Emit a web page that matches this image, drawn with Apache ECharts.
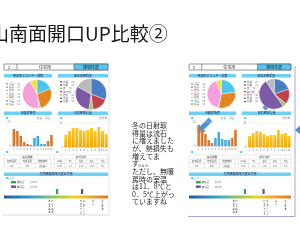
<!DOCTYPE html>
<html><head><meta charset="utf-8">
<script src="https://cdn.jsdelivr.net/npm/echarts@6/dist/echarts.min.js"></script>
<style>html,body{margin:0;padding:0;background:#fff;overflow:hidden}#c{width:300px;height:240px}</style>
</head><body><div id="c"></div>
<script>
const titleText = '山南面開口UP比較②';
const noteLines = ['冬の日射取','得量は流石','に増えました','が、熱損失も','増えてま','す。。。','ただし、無暖','房時の室温','は11．8℃と','0．5℃上がっ','ていますね'];
const months = ['1','2','3','4','5','6','7','8','9','10','11','12'];
const useCats = ['冷房','暖房','換気','給湯','照明'];
const useA = [19, 27, 2, 44, 8];
const useB = [23, 30, 1, 40, 6];
const lossCats = ['屋根','外壁','床','開口部','換気'];
const lossA = [31, 17, 4, 31, 17];
const lossB = [20, 16, 4, 51, 9];
const heatA = [17, 15, 10, 4, 2, 0, 0, 0, 0, 0, 5, 11];
const coolA = [0, 0, 0, 0, 0, 1, 8, 10, 2, 2, 0, 0];
const heatB = [21, 16, 12, 6, 2, 0, 0, 0, 0, 0, 8, 16];
const coolB = [0, 0, 0, 0, 1, 8, 14, 7, 6, 6, 0, 0];
const solarA = [12, 16, 19, 19, 17, 16, 17, 19, 16, 20, 16, 13];
const solarB = [11, 14, 16, 15, 13, 11, 12, 12, 17, 13, 14, 11];
const tempLabels = ['無暖房', '無冷房'];
const tempA = ['11.3℃', '15.7℃'];
const tempB = ['11.8℃', '15.9℃'];

const FONT = '"Noto Sans CJK JP"';
const useColors = ['#4cc4ef', '#e2861f', '#b9b9b9', '#f59fdc', '#f0e046'];
const lossColors = ['#4a7ec2', '#c2404c', '#a5c262', '#7b5aa8', '#f19a40'];
const HB = '#6fcff4';

const chart = echarts.init(document.getElementById('c'), null, {renderer: 'canvas'});
const grids = [], xAxes = [], yAxes = [], series = [], els = [];

function T(x, y, text, size, fill, align, extra) {
  return Object.assign({type: 'text', silent: true, style: {x, y, text, font: size + 'px ' + FONT, fill: fill || '#333',
    textAlign: align || 'left', textVerticalAlign: 'middle'}}, extra || {});
}
function R(x, y, w, h, fill, stroke, lw) {
  return {type: 'rect', silent: true, shape: {x, y, width: w, height: h}, style: {fill: fill || 'none', stroke: stroke || 'none', lineWidth: lw || 0.5}};
}
function L(x1, y1, x2, y2, stroke, lw) {
  return {type: 'line', silent: true, shape: {x1, y1, x2, y2}, style: {stroke, lineWidth: lw || 0.5}};
}

function dashboard(ox, s, d) {
  const X = v => ox + v * s, W = v => v * s;
  // tab bar
  els.push(R(X(0), 64, W(104), 6, '#fff', '#555', 0.6));
  els.push(R(X(70), 64, W(34), 6, '#58c5ee', '#555', 0.6));
  els.push(L(X(13), 64, X(13), 70, '#555', 0.6));
  els.push(T(X(4), 67, '2', 4, '#222'));
  els.push(T(X(41), 67, '住宅用', 4, '#333', 'center'));
  els.push(T(X(87), 67, '建物性能', 4, '#123', 'center'));
  // pie panels
  els.push(R(X(0), 74, W(48), 3.5, HB));
  els.push(R(X(54), 74, W(50), 3.5, HB));
  els.push(T(X(24), 75.8, '用途別エネルギー消費', 3, '#225', 'center'));
  els.push(T(X(79), 75.8, '部位別熱損失', 3, '#225', 'center'));
  for (let i = 0; i < 7; i++) {
    const c1 = useColors[i % 5], c2 = lossColors[i % 5];
    els.push(R(X(2), 83 + i * 3.4, 2, 1.4, c1));
    els.push(T(X(5), 83.7 + i * 3.4, useCats[i % 5] + '　 ' + (10 + i * 7), 2.6, '#777'));
    els.push(R(X(56), 81 + i * 3.3, 2, 1.4, c2));
    els.push(T(X(59), 81.7 + i * 3.3, lossCats[i % 5] + '　 ' + (20 + i * 5), 2.6, '#777'));
  }
  series.push({type: 'pie', center: [X(33), 94], radius: W(14.5), startAngle: 90, silent: true, animation: false,
    label: {show: false}, labelLine: {show: false}, itemStyle: {borderColor: '#fff', borderWidth: 0.4},
    color: useColors, data: d.use.map((v, i) => ({name: useCats[i], value: v}))});
  series.push({type: 'pie', center: [X(87), 94], radius: W(15.5), startAngle: 90, silent: true, animation: false,
    label: {show: false}, labelLine: {show: false}, itemStyle: {borderColor: '#fff', borderWidth: 0.4},
    color: lossColors, data: d.loss.map((v, i) => ({name: lossCats[i], value: v}))});
  // bar panels
  els.push(R(X(0), 111.5, W(48), 3.5, HB));
  els.push(R(X(54), 111.5, W(50), 3.5, HB));
  els.push(T(X(24), 113.3, '冷暖房負荷', 3, '#225', 'center'));
  els.push(T(X(79), 113.3, '日射熱取得量', 3, '#225', 'center'));
  els.push(T(X(2), 118, '■', 2.5, '#5bc0e8'));
  els.push(T(X(56), 118, '■', 2.5, '#5bc0e8'));
  els.push(T(X(46), 118.5, '暖房　冷房', 2.6, '#888', 'right'));
  els.push(T(X(103), 118.5, '取得量', 2.6, '#888', 'right'));
  const g = grids.length;
  grids.push({left: X(8), width: W(41), top: 122, height: 24});
  grids.push({left: X(60), width: W(44), top: 123, height: 24});
  [g, g + 1].forEach(k => {
    xAxes.push({type: 'category', gridIndex: k, data: months, axisTick: {show: false},
      axisLine: {lineStyle: {color: '#bbb', width: 0.5}},
      axisLabel: {fontSize: 2.6, color: '#777', margin: 1.5, interval: 0, fontFamily: FONT}});
    yAxes.push({type: 'value', gridIndex: k, min: 0, max: 24, interval: 24,
      splitLine: {show: true, lineStyle: {color: '#e3e3e3', width: 0.4}},
      axisLabel: {fontSize: 2.6, color: '#888', margin: 1.5}});
  });
  const og = new echarts.graphic.LinearGradient(0, 0, 1, 0, [{offset: 0, color: '#f0a060'}, {offset: 0.5, color: '#e07a2c'}, {offset: 1, color: '#c8601c'}]);
  const bg = new echarts.graphic.LinearGradient(0, 0, 1, 0, [{offset: 0, color: '#7fd0f2'}, {offset: 0.5, color: '#3cb2e6'}, {offset: 1, color: '#2a98d0'}]);
  const yg = new echarts.graphic.LinearGradient(0, 0, 0, 1, [{offset: 0, color: '#ffc92a'}, {offset: 1, color: '#f5a800'}]);
  series.push({type: 'bar', xAxisIndex: g, yAxisIndex: g, stack: 's' + g, data: d.heat, barWidth: '80%', silent: true, animation: false, itemStyle: {color: og}});
  series.push({type: 'bar', xAxisIndex: g, yAxisIndex: g, stack: 's' + g, data: d.cool, barWidth: '80%', silent: true, animation: false, itemStyle: {color: bg}});
  series.push({type: 'bar', xAxisIndex: g + 1, yAxisIndex: g + 1, data: d.solar, barWidth: '82%', silent: true, animation: false, itemStyle: {color: yg}});
  // tables
  els.push(T(X(2), 152.5, '■', 2.5, '#5bc0e8'));
  els.push(T(X(52), 152.5, '■', 2.5, '#5bc0e8'));
  els.push(R(X(0), 155, W(47), 13, '#fff', '#c8c8c8', 0.4));
  els.push(L(X(0), 159, X(47), 159, '#c8c8c8', 0.4));
  els.push(L(X(0), 163.5, X(47), 163.5, '#c8c8c8', 0.4));
  els.push(L(X(15.5), 159, X(15.5), 168, '#c8c8c8', 0.4));
  els.push(L(X(31), 159, X(31), 168, '#c8c8c8', 0.4));
  els.push(T(X(23.5), 157, '建設概要', 2.6, '#555', 'center'));
  ['延床面積', '外皮面積', '階数構成'].forEach((t, i) => {
    els.push(T(X(7.7 + i * 15.5), 161.3, t, 2.4, '#555', 'center'));
    els.push(T(X(7.7 + i * 15.5), 165.8, ['120', '305', '2階建+'][i], 2.4, '#666', 'center'));
  });
  els.push(R(X(50), 155, W(54), 13, '#fff', '#c8c8c8', 0.4));
  els.push(L(X(50), 159, X(104), 159, '#c8c8c8', 0.4));
  els.push(L(X(50), 163.5, X(104), 163.5, '#c8c8c8', 0.4));
  for (let i = 1; i < 5; i++) els.push(L(X(50 + i * 10.8), 159, X(50 + i * 10.8), 168, '#c8c8c8', 0.4));
  els.push(T(X(77), 157, '部位性能', 2.6, '#555', 'center'));
  ['Ua値', 'ηA', 'Q値', 'μ値', 'C値'].forEach((t, i) => {
    els.push(T(X(55.4 + i * 10.8), 161.3, t, 2.4, '#555', 'center'));
    els.push(T(X(55.4 + i * 10.8), 165.8, ['0.56', '2.1', '1.92', '0.07', '0.5'][i], 2.4, '#666', 'center'));
  });
  // temperature section
  els.push(R(X(0), 172.5, W(104), 3.5, HB));
  els.push(T(X(52), 174.3, '冬期無暖房時の室温予想', 3, '#225', 'center'));
  els.push(T(X(2), 178.5, '■ 室温', 2.5, '#5bc0e8'));
  els.push(R(X(7), 181, W(5), 2.4, '#2aa95a'));
  els.push(R(X(7), 185.5, W(5), 2.4, '#7048ab'));
  els.push(T(X(13), 182.2, tempLabels[0], 2.5, '#555'));
  els.push(T(X(13), 186.7, tempLabels[1], 2.5, '#555'));
  els.push(T(X(26), 182.2, d.temp[0], 2.5, '#555'));
  els.push(T(X(26), 186.7, d.temp[1], 2.5, '#555'));
  els.push(R(X(d.mk[0]), 189, W(2.2), 5, '#2aa95a'));
  els.push(R(X(d.mk[1]), 189, W(2.2), 5, '#7048ab'));
  els.push(R(X(0), 195.5, W(104), 3, new echarts.graphic.LinearGradient(0, 0, 1, 0, [
    {offset: 0, color: '#1e5a9c'}, {offset: 0.28, color: '#3aa2d8'}, {offset: 0.5, color: '#9ccc4a'},
    {offset: 0.68, color: '#f2d21e'}, {offset: 0.85, color: '#f0a030'}, {offset: 1, color: '#e27428'}])));
  const vl = [[45.5, '省エネ基準'], [48.5, 'Ｈ11基準'], [77, 'ＨＥＡＴ20'], [80, 'Ｇ１グレード'], [89, 'Ｇ２'], [98.5, 'Ｇ３水準']];
  vl.forEach(([x, t]) => els.push({type: 'text', silent: true, style: {x: X(x), y: 200, text: t.split('').join('\n'),
    font: '2.4px ' + FONT, fill: '#333', textAlign: 'center', textVerticalAlign: 'top', lineHeight: 2.6}}));
}

dashboard(4, 1.0, {use: useA, loss: lossA, heat: heatA, cool: coolA, solar: solarA, temp: tempA, mk: [52, 77]});
dashboard(189, 0.98, {use: useB, loss: lossB, heat: heatB, cool: coolB, solar: solarB, temp: tempB, mk: [56, 75]});

// dashboard frames
els.push(L(109, 63, 109, 215, '#d4d4d4', 0.6));
els.push(L(3, 215, 109, 215, '#d0d0d0', 0.8));
els.push(L(295, 66, 295, 216.5, '#a699d8', 0.9));
els.push(L(188, 216.5, 295, 216.5, '#a699d8', 0.9));

// arrows
function arrow(tx, ty, ang, len, sw, hw, hl) {
  const dx = Math.cos(ang), dy = Math.sin(ang), nx = -dy, ny = dx;
  const bx = tx - dx * hl, by = ty - dy * hl, ex = tx - dx * len, ey = ty - dy * len;
  const p = [[tx, ty], [bx + nx * hw / 2, by + ny * hw / 2], [bx + nx * sw / 2, by + ny * sw / 2],
    [ex + nx * sw / 2, ey + ny * sw / 2], [ex - nx * sw / 2, ey - ny * sw / 2],
    [bx - nx * sw / 2, by - ny * sw / 2], [bx - nx * hw / 2, by - ny * hw / 2]];
  return {type: 'polygon', silent: true, shape: {points: p}, style: {fill: '#4a90d8', stroke: '#86b8ea', lineWidth: 0.6}};
}
els.push(arrow(197, 133, Math.PI * 0.75, 19, 5, 10, 7));
els.push(arrow(274, 99, -Math.PI * 0.25, 14, 4.5, 9, 6));
els.push(arrow(295, 130, Math.PI, 12, 5, 10, 6));

// title and note
els.push(T(-10, 34, titleText, 19, '#1a1a1a'));
els.push({type: 'text', silent: true, style: {x: 132, y: 121.5, text: noteLines.join('\n'), font: '7px ' + FONT,
  fill: '#2a2a2a', textAlign: 'left', textVerticalAlign: 'top', lineHeight: 7.65}});

chart.setOption({
  animation: false,
  grid: grids, xAxis: xAxes, yAxis: yAxes, series,
  graphic: {elements: els}
});
</script></body></html>
